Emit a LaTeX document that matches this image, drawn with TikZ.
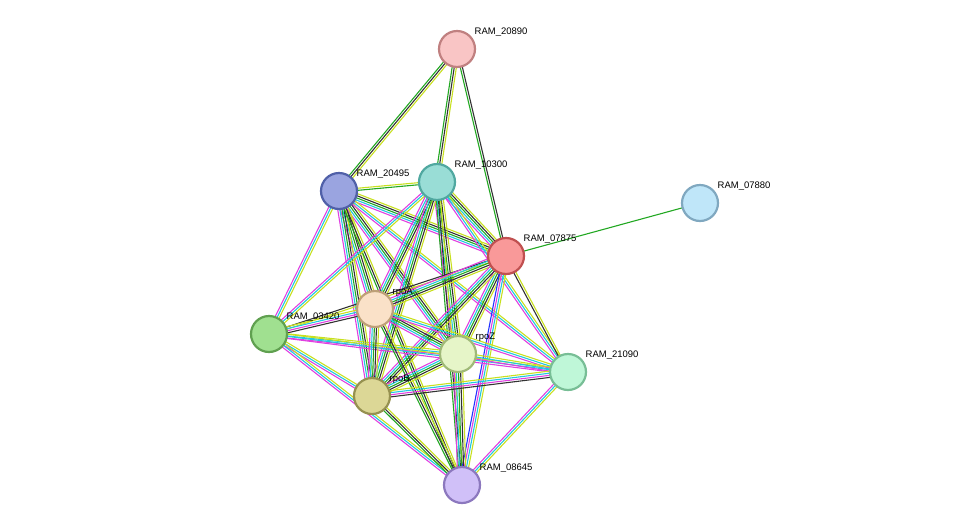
\documentclass[tikz,border=0pt]{standalone}
\usepackage{fontspec}
\setmainfont{Liberation Sans}
\usetikzlibrary{positioning}
\usetikzlibrary{calc}
\pgfdeclarelayer{bg}
\pgfsetlayers{bg,main}
\definecolor{dbs}{HTML}{22C8E0}
\definecolor{exp}{HTML}{E040E0}
\definecolor{nbh}{HTML}{22A822}
\definecolor{coex}{HTML}{333333}
\definecolor{txt}{HTML}{C8E020}
\definecolor{cooc}{HTML}{2233FF}
\newcommand\edge[3]{%
  \gdef\nEdge{0}%
  \foreach \c in {#3}{\xdef\nEdge{\the\numexpr\nEdge+1\relax}}%
  \foreach \c [count=\i] in {#3}{%
    \pgfmathsetmacro\o{(\i-(\nEdge+1)/2)*2.1}
    \draw[\c, line width=1.1pt] ($(#1)!\o pt!90:(#2)$) -- ($(#2)!\o pt!-90:(#1)$);}}
\begin{document}
\begin{tikzpicture}[x=1pt, y=-1pt,
    prot/.style={circle, line width=2.2pt, minimum size=36pt, inner sep=0pt},
    lbl/.style={font=\fontsize{9.5}{11}\selectfont, anchor=south west, inner sep=1pt},
    ]
    \useasboundingbox (0,0) rectangle (975,531);
    % proteins
    \node[prot, fill={rgb,255:red,249;green,197;blue,197}, draw={rgb,255:red,192;green,128;blue,128}] (r20890) at (457,49) {};
    \node[prot, fill={rgb,255:red,154;green,164;blue,224}, draw={rgb,255:red,80;green,96;blue,168}] (r20495) at (339,191) {};
    \node[prot, fill={rgb,255:red,153;green,221;blue,214}, draw={rgb,255:red,80;green,168;blue,160}] (r10300) at (437,182) {};
    \node[prot, fill={rgb,255:red,191;green,230;blue,249}, draw={rgb,255:red,128;green,168;blue,192}] (r07880) at (700,203) {};
    \node[prot, fill={rgb,255:red,249;green,153;blue,153}, draw={rgb,255:red,192;green,80;blue,80}] (r07875) at (506,256) {};
    \node[prot, fill={rgb,255:red,250;green,225;blue,200}, draw={rgb,255:red,190;green,160;blue,120}] (rpoA) at (375,309) {};
    \node[prot, fill={rgb,255:red,160;green,224;blue,144}, draw={rgb,255:red,96;green,160;blue,80}] (r03420) at (269,334) {};
    \node[prot, fill={rgb,255:red,230;green,245;blue,200}, draw={rgb,255:red,160;green,185;blue,120}] (rpoZ) at (458,354) {};
    \node[prot, fill={rgb,255:red,191;green,247;blue,216}, draw={rgb,255:red,120;green,190;blue,150}] (r21090) at (568,372) {};
    \node[prot, fill={rgb,255:red,220;green,215;blue,150}, draw={rgb,255:red,150;green,145;blue,80}] (rpoB) at (372,396) {};
    \node[prot, fill={rgb,255:red,208;green,192;blue,248}, draw={rgb,255:red,140;green,120;blue,190}] (r08645) at (462,485) {};
    % labels
    \node[lbl] at ([xshift=3pt,yshift=-2pt]r20890.north east) {RAM\_20890};
    \node[lbl] at ([xshift=3pt,yshift=-2pt]r20495.north east) {RAM\_20495};
    \node[lbl] at ([xshift=3pt,yshift=-2pt]r10300.north east) {RAM\_10300};
    \node[lbl] at ([xshift=3pt,yshift=-2pt]r07880.north east) {RAM\_07880};
    \node[lbl] at ([xshift=3pt,yshift=-2pt]r07875.north east) {RAM\_07875};
    \node[lbl] at ([xshift=3pt,yshift=-2pt]rpoA.north east) {rpoA};
    \node[lbl] at ([xshift=3pt,yshift=-2pt]r03420.north east) {RAM\_03420};
    \node[lbl] at ([xshift=3pt,yshift=-2pt]rpoZ.north east) {rpoZ};
    \node[lbl] at ([xshift=3pt,yshift=-2pt]r21090.north east) {RAM\_21090};
    \node[lbl] at ([xshift=3pt,yshift=-2pt]rpoB.north east) {rpoB};
    \node[lbl] at ([xshift=3pt,yshift=-2pt]r08645.north east) {RAM\_08645};
    % interactions
    \begin{pgfonlayer}{bg}
    \edge{r20890}{r20495}{nbh,coex,txt}
    \edge{r20890}{r10300}{nbh,coex,txt}
    \edge{r20890}{r07875}{nbh,coex}
    \edge{r07875}{r07880}{nbh}
    \edge{r20495}{r10300}{nbh,txt}
    \edge{r20495}{r07875}{exp,dbs,nbh,coex,txt}
    \edge{r10300}{r07875}{exp,dbs,nbh,coex,txt}
    \edge{r20495}{r03420}{exp,dbs,txt}
    \edge{r20495}{rpoA}{exp,dbs,nbh,coex,txt}
    \edge{r20495}{rpoZ}{exp,dbs,nbh,coex,txt}
    \edge{r20495}{rpoB}{exp,dbs,nbh,coex,txt}
    \edge{r20495}{r21090}{exp,dbs,txt}
    \edge{r20495}{r08645}{nbh,coex,txt}
    \edge{r10300}{r03420}{exp,dbs,txt}
    \edge{r10300}{rpoA}{exp,dbs,nbh,coex,txt}
    \edge{r10300}{rpoZ}{exp,dbs,nbh,coex,txt}
    \edge{r10300}{rpoB}{exp,dbs,nbh,coex,txt}
    \edge{r10300}{r21090}{exp,dbs,txt}
    \edge{r10300}{r08645}{nbh,coex,txt}
    \edge{r07875}{r03420}{coex,txt}
    \edge{r07875}{rpoA}{exp,dbs,nbh,coex,txt}
    \edge{r07875}{rpoZ}{exp,dbs,nbh,coex,txt}
    \edge{r07875}{rpoB}{exp,dbs,nbh,coex,txt}
    \edge{r07875}{r21090}{coex,txt}
    \edge{r07875}{r08645}{cooc,exp,dbs,txt}
    \edge{r03420}{rpoA}{coex,exp,dbs,txt}
    \edge{r03420}{rpoZ}{exp,dbs,txt}
    \edge{r03420}{rpoB}{exp,dbs,txt}
    \edge{r03420}{r21090}{exp,dbs,txt}
    \edge{r03420}{r08645}{exp,dbs,txt}
    \edge{rpoA}{rpoZ}{exp,dbs,nbh,coex,txt}
    \edge{rpoA}{rpoB}{exp,dbs,nbh,coex,txt}
    \edge{rpoA}{r21090}{exp,dbs,txt}
    \edge{rpoA}{r08645}{nbh,coex,txt}
    \edge{rpoZ}{rpoB}{exp,dbs,nbh,coex,txt}
    \edge{rpoZ}{r21090}{exp,dbs,txt}
    \edge{rpoZ}{r08645}{exp,dbs,nbh,coex,txt}
    \edge{rpoB}{r21090}{coex,exp,dbs,txt}
    \edge{rpoB}{r08645}{nbh,coex,txt}
    \edge{r21090}{r08645}{exp,dbs,txt}
    \end{pgfonlayer}
\end{tikzpicture}
\end{document}
